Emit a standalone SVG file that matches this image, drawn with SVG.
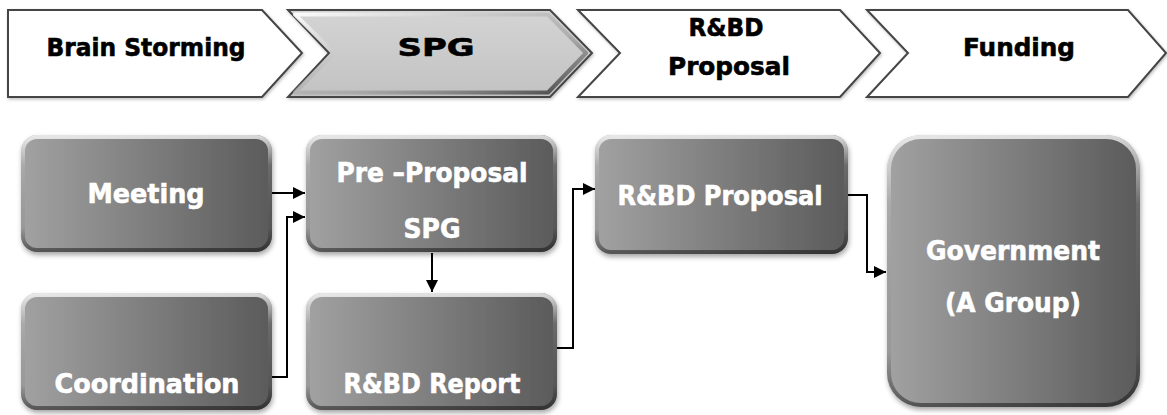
<svg xmlns="http://www.w3.org/2000/svg" width="1167" height="415" viewBox="0 0 1167 415">
  <defs>
    <linearGradient id="boxFill" x1="0" y1="0" x2="1" y2="0">
      <stop offset="0" stop-color="#a2a2a2"/>
      <stop offset="1" stop-color="#5a5a5a"/>
    </linearGradient>
    <linearGradient id="bevel" x1="0" y1="0" x2="0" y2="1">
      <stop offset="0" stop-color="#ffffff" stop-opacity="0.75"/>
      <stop offset="0.25" stop-color="#ffffff" stop-opacity="0.1"/>
      <stop offset="0.8" stop-color="#000000" stop-opacity="0.05"/>
      <stop offset="1" stop-color="#000000" stop-opacity="0.45"/>
    </linearGradient>
    <linearGradient id="spgFill" x1="0" y1="0" x2="0" y2="1">
      <stop offset="0" stop-color="#d4d4d4"/>
      <stop offset="1" stop-color="#c2c2c2"/>
    </linearGradient>
    <linearGradient id="spgBevel" x1="0" y1="0" x2="1" y2="1">
      <stop offset="0" stop-color="#ffffff" stop-opacity="0.9"/>
      <stop offset="0.6" stop-color="#9a9a9a" stop-opacity="0.6"/>
      <stop offset="1" stop-color="#333333" stop-opacity="0.9"/>
    </linearGradient>
    <filter id="shadow" x="-10%" y="-10%" width="120%" height="130%">
      <feDropShadow dx="1" dy="3" stdDeviation="2.5" flood-color="#000" flood-opacity="0.35"/>
    </filter>
    <filter id="soft" x="-5%" y="-10%" width="110%" height="130%">
      <feDropShadow dx="1" dy="1.5" stdDeviation="1.5" flood-color="#000" flood-opacity="0.25"/>
    </filter>
    <marker id="arrow" markerUnits="userSpaceOnUse" markerWidth="13" markerHeight="13" refX="12" refY="6.5" orient="auto">
      <path d="M0,0.5 L12,6.5 L0,12.5 Z" fill="#000"/>
    </marker>
    <style>
      .chev { fill: #ffffff; stroke: #444444; stroke-width: 2; filter: url(#soft); }
      .chevText { font-family: "DejaVu Sans", "Liberation Sans", sans-serif; font-weight: bold; font-size: 25px; fill: #000; stroke: #000; stroke-width: 0.6; text-anchor: middle; }
      .box { fill: url(#boxFill); filter: url(#shadow); }
      .bev { fill: none; stroke: url(#bevel); stroke-width: 4; }
      .boxText { font-family: "DejaVu Sans", "Liberation Sans", sans-serif; font-weight: bold; font-size: 26px; fill: #ffffff; stroke: #ffffff; stroke-width: 0.6; text-anchor: middle; }
      .conn { fill: none; stroke: #000; stroke-width: 2; }
    </style>
  </defs>

  <rect width="1167" height="415" fill="#ffffff"/>

  <g id="stage-brainstorming">
    <path class="chev" d="M8,10 H262 L302,53 L262,97 H8 Z"/>
    <text class="chevText" x="146" y="56" textLength="199" lengthAdjust="spacingAndGlyphs">Brain Storming</text>
  </g>
  <g id="stage-spg">
    <path d="M288,10 H550 L592,53 L550,97 H288 L329,53 Z" fill="url(#spgFill)" stroke="#444" stroke-width="2" filter="url(#soft)"/>
    <path d="M295,14.5 H548 L586,53 L548,92.5 H295 L334,53 Z" fill="none" stroke="url(#spgBevel)" stroke-width="4" stroke-linejoin="round"/>
    <text class="chevText" x="436" y="56" textLength="77" lengthAdjust="spacingAndGlyphs">SPG</text>
  </g>
  <g id="stage-rbd-proposal">
    <path class="chev" d="M578,10 H840 L880,53 L840,97 H578 L620,53 Z"/>
    <text class="chevText" x="726" y="36" textLength="75" lengthAdjust="spacingAndGlyphs">R&amp;BD</text>
    <text class="chevText" x="729" y="75" textLength="122" lengthAdjust="spacingAndGlyphs">Proposal</text>
  </g>
  <g id="stage-funding">
    <path class="chev" d="M867,10 H1128 L1166,53 L1128,97 H867 L908,53 Z"/>
    <text class="chevText" x="1019" y="56" textLength="112" lengthAdjust="spacingAndGlyphs">Funding</text>
  </g>

  <g id="node-meeting">
    <rect class="box" x="21" y="135" width="251" height="117" rx="16"/>
    <rect class="bev" x="23" y="137" width="247" height="113" rx="14"/>
    <text class="boxText" x="146" y="203" textLength="117" lengthAdjust="spacingAndGlyphs">Meeting</text>
  </g>
  <g id="node-coordination">
    <rect class="box" x="21" y="293" width="251" height="117" rx="16"/>
    <rect class="bev" x="23" y="295" width="247" height="113" rx="14"/>
    <text class="boxText" x="147" y="393" textLength="185" lengthAdjust="spacingAndGlyphs">Coordination</text>
  </g>
  <g id="node-preproposal">
    <rect class="box" x="306" y="135" width="251" height="117" rx="16"/>
    <rect class="bev" x="308" y="137" width="247" height="113" rx="14"/>
    <text class="boxText" x="432" y="182" textLength="191" lengthAdjust="spacingAndGlyphs">Pre –Proposal</text>
    <text class="boxText" x="432" y="238" textLength="57" lengthAdjust="spacingAndGlyphs">SPG</text>
  </g>
  <g id="node-rbd-report">
    <rect class="box" x="306" y="293" width="251" height="117" rx="16"/>
    <rect class="bev" x="308" y="295" width="247" height="113" rx="14"/>
    <text class="boxText" x="432" y="393" textLength="177" lengthAdjust="spacingAndGlyphs">R&amp;BD Report</text>
  </g>
  <g id="node-rbd-proposal">
    <rect class="box" x="595" y="135" width="253" height="119" rx="16"/>
    <rect class="bev" x="597" y="137" width="249" height="115" rx="14"/>
    <text class="boxText" x="720" y="205" textLength="205" lengthAdjust="spacingAndGlyphs">R&amp;BD Proposal</text>
  </g>
  <g id="node-government">
    <rect class="box" x="887" y="135" width="253" height="272" rx="34"/>
    <rect class="bev" x="889" y="137" width="249" height="268" rx="32"/>
    <text class="boxText" x="1013" y="260" textLength="174" lengthAdjust="spacingAndGlyphs">Government</text>
    <text class="boxText" x="1013" y="312" textLength="136" lengthAdjust="spacingAndGlyphs">(A Group)</text>
  </g>

  <g id="connectors">
    <path class="conn" d="M272,193 H305" marker-end="url(#arrow)"/>
    <path class="conn" d="M272,377 H287 V217 H305" marker-end="url(#arrow)"/>
    <path class="conn" d="M432,253 V292" marker-end="url(#arrow)"/>
    <path class="conn" d="M557,348 H573 V189 H595" marker-end="url(#arrow)"/>
    <path class="conn" d="M848,195 H867 V272 H886" marker-end="url(#arrow)"/>
  </g>
</svg>
